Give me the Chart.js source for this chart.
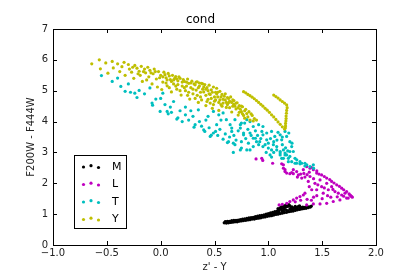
<!DOCTYPE html>
<html>
<head>
<meta charset="utf-8">
<script src="https://cdn.jsdelivr.net/npm/chart.js@4/dist/chart.umd.min.js"></script>
<style>
html,body{margin:0;padding:0;background:#fff;}
#wrap{width:419px;height:280px;position:relative;}
</style>
</head>
<body>
<div id="wrap"><canvas id="c" width="419" height="280"></canvas></div>
<script>
// ---- data ----
const chartTitle = "cond";
const xTitle = "z' - Y";
const yTitle = "F200W - F444W";
const classes = ["M", "L", "T", "Y"];
const xTicks = [-1.0, -0.5, 0.0, 0.5, 1.0, 1.5, 2.0];
const yTicks = [0, 1, 2, 3, 4, 5, 6, 7];

const M_pts = [
[0.59,0.72],[0.61,0.71],[0.63,0.72],[0.65,0.73],[0.67,0.74],[0.69,0.75],[0.71,0.75],[0.73,0.77],[0.75,0.78],[0.77,0.79],
[0.79,0.80],[0.81,0.81],[0.83,0.82],[0.85,0.84],[0.87,0.84],[0.89,0.86],[0.91,0.87],[0.93,0.88],[0.95,0.90],[0.97,0.91],
[0.99,0.93],[1.01,0.94],[1.03,0.95],[1.05,0.97],[1.07,0.99],[1.09,1.00],[1.11,1.02],[1.13,1.03],[1.15,1.05],[1.17,1.06],
[1.19,1.08],[1.21,1.09],[1.23,1.10],[1.25,1.12],[1.27,1.14],[1.29,1.15],[1.31,1.17],[1.33,1.18],[1.35,1.19],[1.37,1.21],[1.39,1.23],
[0.60,0.76],[0.62,0.77],[0.64,0.77],[0.66,0.79],[0.68,0.80],[0.70,0.80],[0.72,0.81],[0.74,0.82],[0.76,0.84],[0.78,0.85],
[0.80,0.86],[0.82,0.88],[0.84,0.89],[0.86,0.90],[0.88,0.92],[0.90,0.94],[0.92,0.95],[0.94,0.96],[0.96,0.98],[0.98,1.00],
[1.00,1.02],[1.02,1.04],[1.04,1.06],[1.06,1.08],[1.08,1.10],[1.10,1.13],[1.12,1.16],[1.14,1.19],[1.16,1.22],[1.18,1.25],
[1.20,1.27],[1.22,1.24],[1.24,1.20],[1.26,1.22],[1.28,1.25],[1.30,1.20],[1.32,1.23],[1.34,1.22],[1.36,1.25],[1.38,1.24],[1.40,1.26],
[0.63,0.75],[0.70,0.78],[0.77,0.82],[0.84,0.86],[0.90,0.90],[0.96,0.94],[1.02,0.99],[1.08,1.05],[1.13,1.10],[1.17,1.12],
[1.20,1.16],[1.23,1.17],[1.27,1.18],[1.30,1.22],[1.12,1.24],[1.15,1.15],[1.05,1.02],[1.09,1.18],[1.19,1.31],[1.16,1.29],
[0.60,0.74],[0.62,0.74],[0.64,0.75],[0.66,0.76],[0.68,0.77],[0.72,0.78],[0.74,0.80],[0.76,0.81],[0.80,0.83],[0.82,0.85],
[0.86,0.87],[0.88,0.88],[0.92,0.91],[0.94,0.93],[0.98,0.96],[1.00,0.98],[1.04,1.00],[1.06,1.04],[1.10,1.07],[1.14,1.08],
[1.18,1.10],[1.22,1.14],[1.26,1.16],[1.32,1.20],[1.36,1.22],[1.11,1.20],[1.14,1.25],[1.21,1.21],[1.25,1.25],[1.29,1.27]
];

const L_pts = [
[0.886,2.79],[0.939,2.81],[0.948,2.74],[1.04,2.65],[1.124,2.63],[1.14,2.60],[1.14,2.49],[1.155,2.44],[1.155,2.38],[1.17,2.33],
[1.20,2.31],[1.217,2.35],[1.232,2.31],[1.232,2.44],[1.263,2.38],[1.279,2.27],[1.31,2.17],[1.325,2.44],[1.356,2.54],[1.387,2.49],
[1.418,2.44],[1.449,2.33],[1.495,2.27],[1.542,2.17],[1.588,2.06],[1.635,1.95],[1.681,1.84],[1.727,1.73],[1.758,1.62],[1.774,1.57],
[1.387,2.22],[1.371,2.06],[1.38,1.89],[1.403,1.79],[1.433,2.00],[1.449,1.79],[1.48,2.11],[1.495,1.89],[1.51,1.68],[1.542,2.00],
[1.557,1.79],[1.588,1.89],[1.619,1.73],[1.65,1.68],[1.681,1.62],[1.712,1.68],[1.742,1.52],[1.727,1.52],[1.665,1.46],[1.603,1.41],
[1.542,1.35],[1.48,1.33],[1.418,1.33],[1.356,1.30],[1.325,1.62],[1.294,1.57],[1.263,1.52],[1.232,1.46],[1.20,1.41],[1.171,1.35],
[1.34,1.68],[1.47,2.30],[1.52,2.22],[1.57,2.12],[1.61,2.01],[1.66,1.90],[1.70,1.79],[1.75,1.66],[1.78,1.55],[1.765,1.60],
[1.45,2.40],[1.40,2.52],[1.38,2.36],[1.36,2.28],[1.34,2.20],[1.33,2.32],[1.13,1.32],[1.10,1.30],[1.25,1.40],[1.30,1.45],
[1.36,1.48],[1.42,1.55],[1.50,1.50],[1.58,1.55],[1.64,1.56],[1.70,1.58],
[1.30,2.30],[1.27,2.20],[1.42,2.15],[1.46,1.95],[1.52,1.85],[1.60,1.80],[1.55,1.60],[1.45,1.60],[1.40,1.45]
];

const T_pts = [
[-0.55,5.49],[-0.45,5.30],[-0.40,5.41],[-0.37,5.14],[-0.33,4.98],[-0.30,5.22],[-0.24,4.92],[-0.22,4.78],[-0.20,5.01],[-0.10,5.09],
[-0.08,4.60],[-0.075,4.53],[-0.045,4.73],[-0.005,4.33],[0.02,4.92],[0.06,4.33],[0.07,4.25],[0.09,4.47],[0.12,4.65],[0.15,4.08],
[0.16,4.12],[0.23,4.47],[0.23,4.22],[0.30,4.17],[0.32,3.90],[0.31,3.82],[0.35,4.38],[0.40,3.73],[0.41,3.68],[0.44,4.17],
[0.46,3.52],[0.47,3.56],[0.49,3.63],[0.49,4.33],[0.51,3.68],[0.52,3.90],[0.54,4.22],[0.58,4.28],[0.58,3.43],[0.61,4.06],
[0.62,3.32],[0.63,3.35],[0.645,3.90],[0.66,3.68],[0.66,3.79],[0.675,3.30],[0.675,3.00],[0.69,4.06],[0.69,3.25],[0.74,3.79],
[0.74,3.90],[0.74,3.08],[0.75,3.95],[0.75,3.35],[0.75,3.14],[0.77,3.63],[0.77,3.57],[0.78,3.95],[0.80,4.06],[0.80,3.08],
[0.815,3.30],[0.83,4.00],[0.83,3.63],[0.83,3.08],[0.86,3.84],[0.86,3.46],[0.86,3.19],[0.88,3.46],[0.89,3.35],[0.91,3.90],
[0.91,3.25],[0.92,3.35],[0.94,3.68],[0.95,3.84],[0.95,3.57],[0.95,3.19],[0.985,3.63],[0.985,3.41],[1.00,3.30],[1.00,3.14],
[1.016,2.92],[1.03,3.68],[1.03,3.08],[1.047,3.25],[1.06,3.52],[1.078,3.19],[1.078,3.08],[1.11,3.57],[1.11,2.98],[1.11,2.92],
[1.11,3.03],[1.124,3.41],[1.124,2.81],[1.14,3.08],[1.14,2.81],[1.155,3.68],[1.155,2.98],[1.155,2.92],[1.17,3.52],[1.17,2.92],
[1.186,2.81],[1.186,2.70],[1.19,3.63],[1.20,3.35],[1.20,3.03],[1.20,2.87],[1.217,3.19],[1.217,2.70],[1.22,3.30],[1.232,3.03],
[1.248,2.81],[1.248,2.65],[1.264,2.76],[1.263,2.65],[1.294,2.70],[1.294,2.63],[1.31,2.65],[1.34,2.65],[1.34,2.56],[1.357,2.60],
[1.387,2.54],[1.418,2.60],[1.42,2.49],
[-0.28,4.95],[-0.15,4.90],[0.00,4.75],[0.04,4.55],[0.10,4.30],[0.18,4.35],[0.20,4.00],[0.26,4.05],[0.28,4.35],[0.36,4.00],
[0.38,3.85],[0.42,4.05],[0.45,3.80],[0.53,3.55],[0.55,3.75],[0.56,4.05],[0.60,3.60],[0.64,3.50],[0.68,3.55],[0.70,3.40],
[0.72,3.70],[0.79,3.45],[0.81,3.75],[0.84,3.55],[0.88,3.70],[0.90,3.55],[0.93,3.45],[0.97,3.25],[1.02,3.45],[1.05,3.35],
[1.08,3.40],[1.09,3.65],[1.13,3.25],[1.16,3.15],[1.18,3.05],[1.13,3.50],[1.05,3.00],[0.98,3.00],[1.03,2.85]
];

const Y_pts = [
[-0.64,5.87],[-0.57,6.00],[-0.56,5.71],[-0.51,5.90],[-0.49,5.57],[-0.45,5.95],[-0.44,5.74],[-0.40,5.87],[-0.38,5.62],[-0.36,5.78],
[-0.34,5.92],[-0.33,5.50],[-0.30,5.85],[-0.29,5.70],[-0.27,5.60],[-0.25,5.40],[-0.24,5.82],[-0.22,5.73],[-0.20,5.63],[-0.19,5.50],
[-0.18,5.79],[-0.17,5.30],[-0.15,5.70],[-0.14,5.58],[-0.12,5.76],[-0.11,5.45],[-0.10,5.66],[-0.08,5.22],[-0.07,5.55],[-0.06,5.70],
[-0.05,5.62],[-0.04,5.38],[-0.03,5.12],[-0.02,5.62],[0.00,5.50],[0.01,5.04],[0.02,5.28],[0.03,5.60],[0.04,5.52],[0.05,5.42],
[0.06,5.16],[0.06,5.35],[0.07,5.56],[0.08,5.48],[0.09,5.36],[0.10,4.96],[0.10,5.30],[0.11,5.50],[0.12,5.22],[0.13,5.40],
[0.14,5.46],[0.14,5.15],[0.15,5.05],[0.16,5.32],[0.17,5.45],[0.18,5.40],[0.19,4.86],[0.20,5.15],[0.21,5.36],[0.22,5.30],
[0.22,5.10],[0.23,5.00],[0.24,5.28],[0.25,5.38],[0.26,5.24],[0.26,4.95],[0.27,4.73],[0.28,5.10],[0.29,5.31],[0.30,4.90],
[0.31,5.22],[0.32,5.19],[0.33,5.02],[0.34,5.29],[0.34,4.85],[0.35,4.62],[0.36,5.15],[0.36,5.25],[0.37,4.80],[0.38,5.24],
[0.38,4.70],[0.39,5.05],[0.40,4.96],[0.40,5.12],[0.41,5.20],[0.42,4.52],[0.43,5.10],[0.44,4.72],[0.44,5.00],[0.45,5.18],
[0.46,4.88],[0.46,4.60],[0.47,5.03],[0.48,4.43],[0.48,4.95],[0.49,5.12],[0.50,4.66],[0.50,4.80],[0.51,4.95],[0.52,5.08],
[0.52,4.90],[0.53,4.80],[0.54,4.36],[0.55,4.98],[0.56,4.55],[0.56,4.80],[0.57,4.88],[0.58,4.72],[0.58,4.60],[0.60,4.90],
[0.60,4.70],[0.61,4.46],[0.62,4.78],[0.62,4.55],[0.63,4.61],[0.64,4.66],[0.65,4.80],[0.66,4.31],[0.67,4.50],[0.68,4.68],
[0.68,4.56],[0.70,4.41],[0.71,4.61],[0.72,4.21],[0.73,4.52],[0.74,4.40],[0.75,4.32],[0.76,4.48],[0.77,4.20],[0.78,4.11],
[0.79,4.40],[0.80,4.26],[0.82,4.32],[0.83,4.05],[0.85,4.20],[0.87,4.10],[0.89,4.05],
[-0.26,5.76],[-0.21,5.55],[-0.16,5.62],[-0.13,5.35],[-0.09,5.58],[-0.01,5.42],[0.02,5.45],[0.05,5.25],[0.08,5.10],[0.12,5.35],
[0.15,5.38],[0.16,5.20],[0.18,5.00],[0.20,5.28],[0.24,5.15],[0.25,4.85],[0.28,5.25],[0.30,5.05],[0.32,4.75],[0.33,5.28],
[0.35,5.10],[0.37,4.95],[0.39,5.22],[0.42,5.05],[0.42,4.85],[0.43,4.65],[0.45,4.90],[0.47,4.75],[0.49,4.55],[0.51,4.70],
[0.53,4.95],[0.54,4.62],[0.55,4.70],[0.57,4.50],[0.59,4.82],[0.61,4.62],[0.63,4.75],[0.64,4.45],[0.66,4.62],[0.67,4.70],
[0.69,4.50],[0.70,4.60],[0.72,4.45],[0.73,4.30],[0.75,4.50],[0.76,4.25],[0.78,4.35],[0.81,4.15],[0.84,4.25],[0.86,4.02],
[0.77,4.97],[0.79,4.93],[0.81,4.88],[0.83,4.84],[0.85,4.79],[0.87,4.74],[0.89,4.68],[0.91,4.62],[0.93,4.56],[0.95,4.50],
[0.97,4.43],[0.99,4.37],[1.01,4.30],[1.03,4.22],[1.05,4.15],[1.07,4.07],[1.09,3.99],[1.11,3.91],[1.13,3.83],[1.15,3.76],
[1.05,4.86],[1.07,4.81],[1.09,4.76],[1.11,4.70],[1.13,4.65],[1.15,4.60],[1.17,4.54],[1.175,4.45],[1.17,4.36],[1.168,4.27],
[1.165,4.18],[1.165,4.10],[1.163,4.02],[1.16,3.94],[1.16,3.86],[1.158,3.79]
];

const seriesPts = [M_pts, L_pts, T_pts, Y_pts];
const seriesColors = ["#000000", "#BF00BF", "#00BFBF", "#BFBF00"];

const FONT = "'DejaVu Sans', sans-serif";
const fmtX = v => (v < 0 ? "\u2212" : "") + Math.abs(v).toFixed(1);

const frameTicks = {
  id: "frameTicks",
  afterDatasetsDraw(chart) {
    const ctx = chart.ctx, ca = chart.chartArea;
    const xs = chart.scales.x, ys = chart.scales.y;
    ctx.save();
    ctx.strokeStyle = "#000";
    ctx.lineWidth = 1;
    ctx.beginPath();
    xTicks.forEach(v => {
      const p = Math.round(xs.getPixelForValue(v)) + 0.5;
      ctx.moveTo(p, ca.bottom); ctx.lineTo(p, ca.bottom - 4);
      ctx.moveTo(p, ca.top); ctx.lineTo(p, ca.top + 4);
    });
    yTicks.forEach(v => {
      const p = Math.round(ys.getPixelForValue(v)) + 0.5;
      ctx.moveTo(ca.left, p); ctx.lineTo(ca.left + 4, p);
      ctx.moveTo(ca.right, p); ctx.lineTo(ca.right - 4, p);
    });
    ctx.stroke();
    ctx.strokeRect(Math.round(ca.left) + 0.5, Math.round(ca.top) + 0.5,
                   Math.round(ca.right - ca.left), Math.round(ca.bottom - ca.top));
    // legend box
    const bx = Math.round(ca.left) + 21.5, by = Math.round(ca.bottom) - 89.5, bw = 52, bh = 73;
    ctx.fillStyle = "#fff";
    ctx.fillRect(bx, by, bw, bh);
    ctx.strokeRect(bx, by, bw, bh);
    const dotDx = [9, 16.5, 24], dotDy = [0.5, -0.8, 1];
    classes.forEach((name, i) => {
      const cy = by + 11 + i * 17.5;
      ctx.fillStyle = seriesColors[i];
      dotDx.forEach((dx, k) => {
        ctx.beginPath();
        ctx.arc(bx + dx, cy + dotDy[k], 1.6, 0, Math.PI * 2);
        ctx.fill();
      });
      ctx.fillStyle = "#000";
      ctx.font = "11px " + FONT;
      ctx.textAlign = "left";
      ctx.textBaseline = "middle";
      ctx.fillText(name, bx + 37.5, cy + 0.5);
    });
    ctx.restore();
  }
};

new Chart(document.getElementById("c"), {
  type: "scatter",
  data: {
    datasets: seriesPts.map((pts, i) => ({
      label: classes[i],
      data: pts.map(p => ({x: p[0], y: p[1]})),
      backgroundColor: seriesColors[i],
      borderWidth: 0,
      pointRadius: 1.6,
      pointHoverRadius: 1.6,
      order: 4 - i
    }))
  },
  options: {
    responsive: false,
    animation: false,
    devicePixelRatio: 1,
    events: [],
    layout: {padding: {left: 25, right: 43, top: 0, bottom: 0}},
    plugins: {
      legend: {display: false},
      tooltip: {enabled: false},
      title: {
        display: true, text: chartTitle, color: "#000",
        font: {family: FONT, size: 12, weight: "normal"},
        padding: {top: 13, bottom: 1.6}
      }
    },
    scales: {
      x: {
        type: "linear", min: -1, max: 2,
        afterFit: s => { s.height = 35; },
        afterBuildTicks: s => { s.ticks = xTicks.map(v => ({value: v})); },
        grid: {display: false, drawTicks: false},
        border: {display: false},
        ticks: {color: "#222", padding: 2, maxRotation: 0, autoSkip: false,
                font: {family: FONT, size: 10}, callback: v => fmtX(v)},
        title: {display: true, text: xTitle, color: "#222",
                font: {family: FONT, size: 10}, padding: {top: 0, bottom: 7}}
      },
      y: {
        type: "linear", min: 0, max: 7,
        afterFit: s => { s.width = 28; },
        afterBuildTicks: s => { s.ticks = yTicks.map(v => ({value: v})); },
        grid: {display: false, drawTicks: false},
        border: {display: false},
        ticks: {color: "#222", padding: 5, autoSkip: false,
                font: {family: FONT, size: 10}, callback: v => String(v)},
        title: {display: true, text: yTitle, color: "#222",
                font: {family: FONT, size: 10}, padding: {top: 0, bottom: 0}}
      }
    }
  },
  plugins: [frameTicks]
});
</script>
</body>
</html>
